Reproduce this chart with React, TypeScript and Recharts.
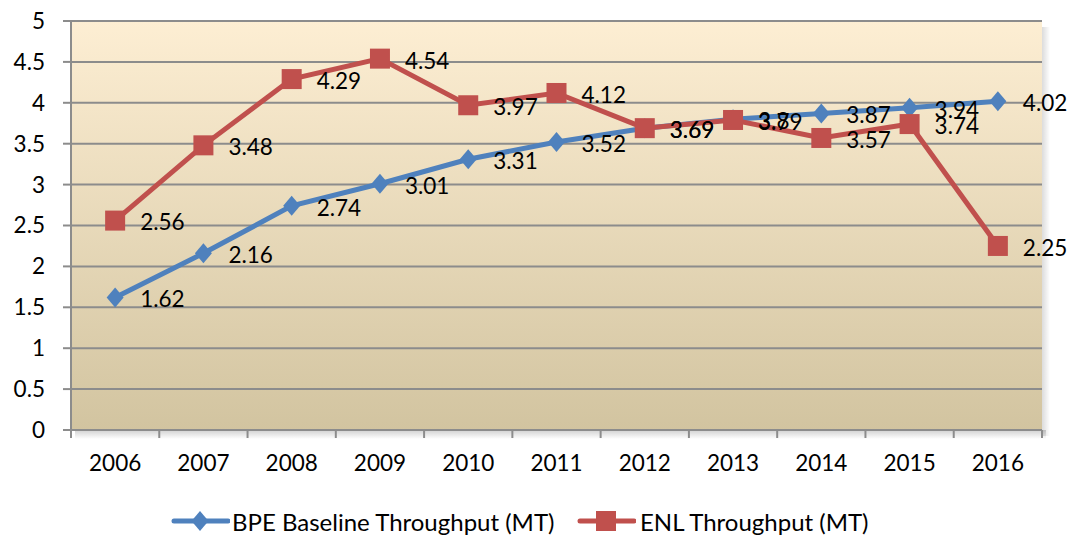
import React from 'react';
import { LineChart, Line, XAxis, YAxis, CartesianGrid, LabelList, Legend } from 'recharts';

const years = ['2006', '2007', '2008', '2009', '2010', '2011', '2012', '2013', '2014', '2015', '2016'];
const bpeValues = [1.62, 2.16, 2.74, 3.01, 3.31, 3.52, 3.69, 3.8, 3.87, 3.94, 4.02];
const enlValues = [2.56, 3.48, 4.29, 4.54, 3.97, 4.12, 3.69, 3.79, 3.57, 3.74, 2.25];
const yTicks = [0, 0.5, 1, 1.5, 2, 2.5, 3, 3.5, 4, 4.5, 5];
const seriesNames = ['BPE Baseline Throughput (MT)', 'ENL Throughput (MT)'];

const data = years.map((y, i) => ({ year: y, bpe: bpeValues[i], enl: enlValues[i] }));

const W = 1067;
const H = 541;
const margin = { top: 21, right: 25, bottom: 0, left: 0 };
const Y_AXIS_W = 71;
const X_AXIS_H = 71;
const LEGEND_H = 40;
const PLOT_W = W - margin.left - margin.right - Y_AXIS_W;
const PLOT_H = H - margin.top - margin.bottom - X_AXIS_H - LEGEND_H;
const PLOT_X = margin.left + Y_AXIS_W;
const PLOT_Y = margin.top;
const BAND = PLOT_W / years.length;
const FONT = 'Lato, "Open Sans", sans-serif';
const FS = 22.5;
const BLUE = '#4f81bd';
const RED = '#c0504d';
const GRAY = '#8c8c8c';

const Diamond = (props: any) => {
  const { cx, cy, index } = props;
  if (cx == null || cy == null) return <g key={`d${index}`} />;
  return (
    <path key={`d${index}`} d={`M${cx},${cy - 10} L${cx + 8.5},${cy} L${cx},${cy + 10} L${cx - 8.5},${cy} Z`} fill={BLUE} />
  );
};

const Square = (props: any) => {
  const { cx, cy, index } = props;
  if (cx == null || cy == null) return <g key={`s${index}`} />;
  return <rect key={`s${index}`} x={cx - 10} y={cy - 10} width={20} height={20} fill={RED} />;
};

const renderLabel = (props: any) => {
  const { x, y, value } = props;
  return (
    <text x={x + 25} y={y + 2} dy="0.35em" fontSize={FS} fontFamily={FONT} fill="#000" textAnchor="start">
      {value}
    </text>
  );
};

const XTick = (props: any) => {
  const { x, y, payload, index } = props;
  const axisY = y - 25;
  return (
    <g>
      <line x1={x - BAND / 2} x2={x - BAND / 2} y1={axisY} y2={axisY + 8} stroke={GRAY} strokeWidth={2} />
      {index === years.length - 1 && (
        <line x1={x + BAND / 2} x2={x + BAND / 2} y1={axisY} y2={axisY + 8} stroke={GRAY} strokeWidth={2} />
      )}
      <text x={x} y={y} dy="0.71em" textAnchor="middle" fontSize={FS} fontFamily={FONT} fill="#000">
        {payload.value}
      </text>
    </g>
  );
};

const LegendContent = () => (
  <div style={{ position: 'relative', height: LEGEND_H, fontFamily: FONT, fontSize: 24, color: '#000' }}>
    <div style={{ position: 'absolute', left: 170, top: 0, height: LEGEND_H, display: 'flex', alignItems: 'center', whiteSpace: 'nowrap' }}>
      <svg width={60} height={24} style={{ marginRight: 2 }}>
        <line x1={4} x2={58} y1={12} y2={12} stroke={BLUE} strokeWidth={5} strokeLinecap="round" />
        <path d="M30,2 L38.5,12 L30,22 L21.5,12 Z" fill={BLUE} />
      </svg>
      <span>{seriesNames[0]}</span>
    </div>
    <div style={{ position: 'absolute', left: 576, top: 0, height: LEGEND_H, display: 'flex', alignItems: 'center', whiteSpace: 'nowrap' }}>
      <svg width={60} height={24} style={{ marginRight: 4 }}>
        <line x1={4} x2={58} y1={12} y2={12} stroke={RED} strokeWidth={5} strokeLinecap="round" />
        <rect x={20} y={2} width={20} height={20} fill={RED} />
      </svg>
      <span>{seriesNames[1]}</span>
    </div>
  </div>
);

export default function App() {
  return (
    <div style={{ position: 'fixed', left: 0, top: 0, width: W, height: H, background: '#fff' }}>
      <LineChart width={W} height={H} data={data} margin={margin}>
        <defs>
          <linearGradient id="plotBg" x1="0" y1="0" x2="0" y2="1">
            <stop offset="0%" stopColor="#fdeed3" />
            <stop offset="100%" stopColor="#d2c4a0" />
          </linearGradient>
          <linearGradient id="shadowB" x1="0" y1="0" x2="0" y2="1">
            <stop offset="0%" stopColor="#000" stopOpacity={0.18} />
            <stop offset="100%" stopColor="#000" stopOpacity={0} />
          </linearGradient>
          <linearGradient id="shadowR" x1="0" y1="0" x2="1" y2="0">
            <stop offset="0%" stopColor="#000" stopOpacity={0.14} />
            <stop offset="100%" stopColor="#000" stopOpacity={0} />
          </linearGradient>
        </defs>
        <rect x={PLOT_X + 4} y={PLOT_Y + PLOT_H} width={PLOT_W} height={9} fill="url(#shadowB)" />
        <rect x={PLOT_X + PLOT_W} y={PLOT_Y + 6} width={8} height={PLOT_H} fill="url(#shadowR)" />
        <CartesianGrid vertical={false} stroke={GRAY} strokeWidth={2} fill="url(#plotBg)" fillOpacity={1} />
        <XAxis
          dataKey="year"
          height={X_AXIS_H}
          padding={{ left: BAND / 2, right: BAND / 2 }}
          tickLine={false}
          tickSize={8}
          tickMargin={17}
          axisLine={{ stroke: GRAY, strokeWidth: 2 }}
          tick={<XTick />}
          interval={0}
        />
        <YAxis
          width={Y_AXIS_W}
          domain={[0, 5]}
          ticks={yTicks}
          tickSize={8}
          tickMargin={18}
          axisLine={{ stroke: GRAY, strokeWidth: 2 }}
          tickLine={{ stroke: GRAY, strokeWidth: 2 }}
          tick={{ fontSize: FS, fontFamily: FONT, fill: '#000' }}
          interval={0}
        />
        <Legend verticalAlign="bottom" height={LEGEND_H} content={<LegendContent />} />
        <Line
          name={seriesNames[0]}
          dataKey="bpe"
          stroke={BLUE}
          strokeWidth={5}
          dot={Diamond}
          activeDot={false}
          isAnimationActive={false}
        >
          <LabelList dataKey="bpe" content={renderLabel} />
        </Line>
        <Line
          name={seriesNames[1]}
          dataKey="enl"
          stroke={RED}
          strokeWidth={5}
          dot={Square}
          activeDot={false}
          isAnimationActive={false}
        >
          <LabelList dataKey="enl" content={renderLabel} />
        </Line>
      </LineChart>
    </div>
  );
}
